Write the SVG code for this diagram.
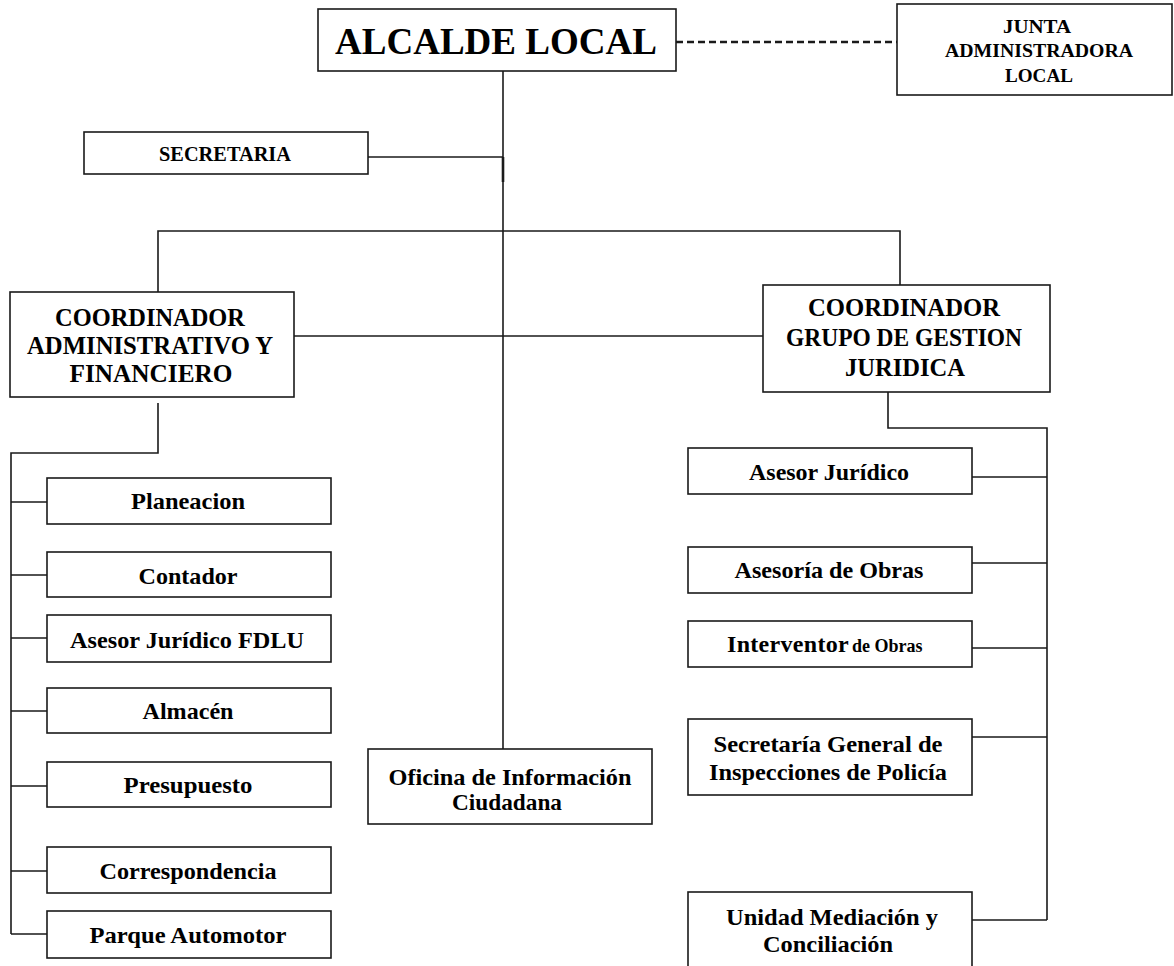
<svg xmlns="http://www.w3.org/2000/svg" width="1174" height="966" viewBox="0 0 1174 966">
<style>
  .box { fill: #ffffff; stroke: #1a1a1a; stroke-width: 1.6; }
  .ln { fill: none; stroke: #1a1a1a; stroke-width: 1.6; }
  .dash { fill: none; stroke: #1a1a1a; stroke-width: 2.6; stroke-dasharray: 7 4; }
  text { font-family: "Liberation Serif", "Times New Roman", serif; font-weight: bold; fill: #000000; text-anchor: middle; }
  .big { font-size: 37px; }
  .mid { font-size: 26px; }
  .sm { font-size: 24px; }
  .xs { font-size: 19px; }
  .sec { font-size: 20px; }
</style>
<rect width="1174" height="966" fill="#ffffff"/>

<g id="connectors">
  <path class="dash" d="M676 42 H897"/>
  <path class="ln" d="M503 71 V749"/>
  <path class="ln" d="M503 157 V182" style="stroke-width:2.6"/>
  <path class="ln" d="M368 157 H503"/>
  <path class="ln" d="M158 292 V231 H900 V293"/>
  <path class="ln" d="M294 336 H763"/>
  <path class="ln" d="M158 403 V453 H11 V934"/>
  <path class="ln" d="M11 502 H47 M11 575 H47 M11 638 H47 M11 711 H47 M11 786 H47 M11 871 H47 M11 934 H47"/>
  <path class="ln" d="M888 392 V428 H1047 V920"/>
  <path class="ln" d="M972 477 H1047 M972 563 H1047 M972 648 H1047 M972 737 H1047 M972 920 H1047"/>
</g>

<g id="alcalde">
  <rect class="box" x="318" y="9" width="358" height="62"/>
  <text class="big" x="496" y="54" textLength="322" lengthAdjust="spacingAndGlyphs">ALCALDE LOCAL</text>
</g>

<g id="junta">
  <rect class="box" x="897" y="4" width="275" height="91"/>
  <text class="xs" x="1037" y="33" textLength="68" lengthAdjust="spacingAndGlyphs">JUNTA</text>
  <text class="xs" x="1039" y="57" textLength="188" lengthAdjust="spacingAndGlyphs">ADMINISTRADORA</text>
  <text class="xs" x="1039" y="82" textLength="68" lengthAdjust="spacingAndGlyphs">LOCAL</text>
</g>

<g id="secretaria">
  <rect class="box" x="84" y="132" width="284" height="42"/>
  <text class="sec" x="225" y="161" textLength="132" lengthAdjust="spacingAndGlyphs">SECRETARIA</text>
</g>

<g id="coord-adm">
  <rect class="box" x="10" y="292" width="284" height="105"/>
  <text class="mid" x="150" y="326" textLength="190" lengthAdjust="spacingAndGlyphs">COORDINADOR</text>
  <text class="mid" x="150" y="354" textLength="246" lengthAdjust="spacingAndGlyphs">ADMINISTRATIVO Y</text>
  <text class="mid" x="151" y="382" textLength="163" lengthAdjust="spacingAndGlyphs">FINANCIERO</text>
</g>

<g id="coord-jur">
  <rect class="box" x="763" y="285" width="287" height="107"/>
  <text class="mid" x="904" y="316" textLength="192" lengthAdjust="spacingAndGlyphs">COORDINADOR</text>
  <text class="mid" x="904" y="346" textLength="236" lengthAdjust="spacingAndGlyphs">GRUPO DE GESTION</text>
  <text class="mid" x="905" y="376" textLength="120" lengthAdjust="spacingAndGlyphs">JURIDICA</text>
</g>

<g id="planeacion">
  <rect class="box" x="47" y="478" width="284" height="46"/>
  <text class="sm" x="188" y="509" textLength="114" lengthAdjust="spacingAndGlyphs">Planeacion</text>
</g>
<g id="contador">
  <rect class="box" x="47" y="552" width="284" height="45"/>
  <text class="sm" x="188" y="584" textLength="99" lengthAdjust="spacingAndGlyphs">Contador</text>
</g>
<g id="asesor-fdlu">
  <rect class="box" x="47" y="615" width="284" height="47"/>
  <text class="sm" x="187" y="648" textLength="234" lengthAdjust="spacingAndGlyphs">Asesor Jurídico FDLU</text>
</g>
<g id="almacen">
  <rect class="box" x="47" y="688" width="284" height="45"/>
  <text class="sm" x="188" y="719" textLength="91" lengthAdjust="spacingAndGlyphs">Almacén</text>
</g>
<g id="presupuesto">
  <rect class="box" x="47" y="762" width="284" height="45"/>
  <text class="sm" x="188" y="793" textLength="129" lengthAdjust="spacingAndGlyphs">Presupuesto</text>
</g>
<g id="correspondencia">
  <rect class="box" x="47" y="847" width="284" height="46"/>
  <text class="sm" x="188" y="879" textLength="177" lengthAdjust="spacingAndGlyphs">Correspondencia</text>
</g>
<g id="parque-automotor">
  <rect class="box" x="47" y="911" width="284" height="47"/>
  <text class="sm" x="188" y="943" textLength="197" lengthAdjust="spacingAndGlyphs">Parque Automotor</text>
</g>

<g id="oficina">
  <rect class="box" x="368" y="749" width="284" height="75"/>
  <text class="sm" x="510" y="785" textLength="243" lengthAdjust="spacingAndGlyphs">Oficina de Información</text>
  <text class="sm" x="507" y="810" textLength="110" lengthAdjust="spacingAndGlyphs">Ciudadana</text>
</g>

<g id="asesor-juridico">
  <rect class="box" x="688" y="448" width="284" height="46"/>
  <text class="sm" x="829" y="480" textLength="160" lengthAdjust="spacingAndGlyphs">Asesor Jurídico</text>
</g>
<g id="asesoria-obras">
  <rect class="box" x="688" y="547" width="284" height="46"/>
  <text class="sm" x="829" y="578" textLength="189" lengthAdjust="spacingAndGlyphs">Asesoría de Obras</text>
</g>
<g id="interventor">
  <rect class="box" x="688" y="621" width="284" height="46"/>
  <text style="text-anchor:start"><tspan x="727" y="652" font-size="24" letter-spacing="0.3">Interventor</tspan><tspan x="852" y="652" font-size="18">de Obras</tspan></text>
</g>
<g id="secretaria-general">
  <rect class="box" x="688" y="719" width="284" height="76"/>
  <text class="sm" x="828" y="752" textLength="229" lengthAdjust="spacingAndGlyphs">Secretaría General de</text>
  <text class="sm" x="828" y="780" textLength="238" lengthAdjust="spacingAndGlyphs">Inspecciones de Policía</text>
</g>
<g id="unidad-mediacion">
  <rect class="box" x="688" y="892" width="284" height="80"/>
  <text class="sm" x="832" y="925" textLength="212" lengthAdjust="spacingAndGlyphs">Unidad Mediación y</text>
  <text class="sm" x="828" y="952" textLength="130" lengthAdjust="spacingAndGlyphs">Conciliación</text>
</g>
</svg>
